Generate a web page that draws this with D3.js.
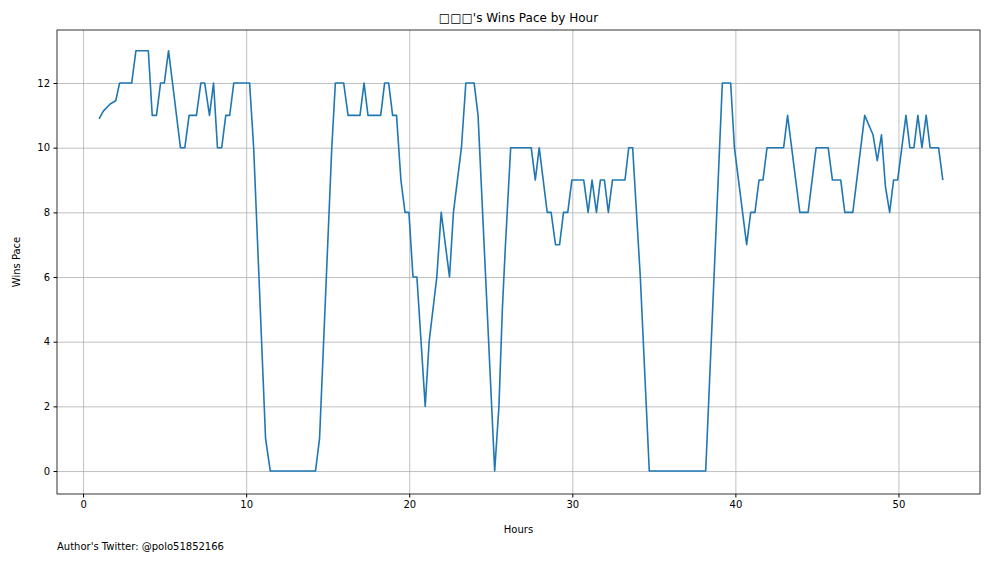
<!DOCTYPE html>
<html>
<head>
<meta charset="utf-8">
<script src="https://cdn.jsdelivr.net/npm/d3@7"></script>
<style>
  body { margin: 0; background: #fff; }
  text { font-family: "DejaVu Sans", sans-serif; }
  .grid line { stroke: #b0b0b0; stroke-width: 0.8; }
  .grid path { display: none; }
  .axis text { font-size: 10px; fill: #000; }
</style>
</head>
<body>
<svg width="997" height="562"></svg>
<script>
// vertices (hour, wins pace)
const hours = [0.98, 1.24, 1.66, 2.0, 2.24, 2.98, 3.24, 4.0, 4.24, 4.5, 4.75, 4.98, 5.24, 5.97, 6.24, 6.5, 6.95,
  7.22, 7.46, 7.75, 8.0, 8.24, 8.5, 8.75, 8.99, 9.24, 10.21, 10.46, 11.19, 11.48, 14.25, 14.5, 15.25, 15.47,
  15.98, 16.25, 16.98, 17.23, 17.47, 18.25, 18.49, 18.74, 18.98, 19.22, 19.49, 19.74, 19.98, 20.23, 20.47,
  20.98, 21.22, 21.69, 21.96, 22.47, 22.71, 23.2, 23.47, 23.98, 24.22, 25.24, 25.5, 25.71, 25.9, 26.22,
  27.48, 27.73, 27.97, 28.46, 28.7, 28.97, 29.22, 29.46, 29.72, 29.97, 30.7, 30.97, 31.21, 31.48, 31.72,
  31.97, 32.21, 32.46, 33.23, 33.46, 33.7, 34.17, 34.72, 38.18, 39.2, 39.71, 39.94, 40.69, 40.94, 41.2,
  41.45, 41.69, 41.94, 42.96, 43.2, 43.95, 44.46, 44.95, 45.69, 45.95, 46.46, 46.71, 47.2, 47.93, 48.44,
  48.7, 48.96, 49.2, 49.46, 49.7, 49.95, 50.46, 50.7, 50.95, 51.19, 51.44, 51.7, 51.94, 52.46, 52.72];
const winsPace = [10.89, 11.13, 11.35, 11.45, 12, 12, 13, 13, 11, 11, 12, 12, 13, 10, 10, 11, 11,
  12, 12, 11, 12, 10, 10, 11, 11, 12, 12, 10, 1, 0, 0, 1, 10, 12,
  12, 11, 11, 12, 11, 11, 12, 12, 11, 11, 9, 8, 8, 6, 6,
  2, 4, 6, 8, 6, 8, 10, 12, 12, 11, 0, 2, 5, 7, 10,
  10, 9, 10, 8, 8, 7, 7, 8, 8, 9, 9, 8, 9, 8, 9,
  9, 8, 9, 9, 10, 10, 6, 0, 0, 12, 12, 10, 7, 8, 8,
  9, 9, 10, 10, 11, 8, 8, 10, 10, 9, 9, 8, 8, 11, 10.4,
  9.6, 10.4, 8.8, 8, 9, 9, 11, 10, 10, 11, 10, 11, 10, 10, 9];
const xTicks = [0, 10, 20, 30, 40, 50];
const yTicks = [0, 2, 4, 6, 8, 10, 12];

const svg = d3.select('svg');
const mLeft = 57, mRight = 980, mTop = 30, mBottom = 494;

const x = d3.scaleLinear().domain([-1.6, 55.0]).range([mLeft, mRight]);
const y = d3.scaleLinear().domain([-0.71, 13.64]).range([mBottom, mTop]);

// grid
svg.append('g')
    .attr('class', 'grid')
    .attr('transform', `translate(0, ${mBottom})`)
    .call(d3.axisBottom(x).tickValues(xTicks).tickSize(-(mBottom - mTop)).tickFormat(''));
svg.append('g')
    .attr('class', 'grid')
    .attr('transform', `translate(${mLeft}, 0)`)
    .call(d3.axisLeft(y).tickValues(yTicks).tickSize(-(mRight - mLeft)).tickFormat(''));

// axes
svg.append('g')
    .attr('class', 'axis')
    .attr('transform', `translate(0, ${mBottom})`)
    .call(d3.axisBottom(x).tickValues(xTicks).tickSize(3.5).tickPadding(3.5).tickSizeOuter(0))
    .call(g => g.select('.domain').remove());
svg.append('g')
    .attr('class', 'axis')
    .attr('transform', `translate(${mLeft}, 0)`)
    .call(d3.axisLeft(y).tickValues(yTicks).tickSize(3.5).tickPadding(3.5).tickSizeOuter(0))
    .call(g => g.select('.domain').remove());

svg.append('rect')
    .attr('x', mLeft).attr('y', mTop)
    .attr('width', mRight - mLeft).attr('height', mBottom - mTop)
    .attr('fill', 'none').attr('stroke', '#000').attr('stroke-width', 0.8);

const pts = hours.map((h, i) => [h, winsPace[i]]);
svg.append('path')
    .datum(pts)
    .attr('fill', 'none')
    .attr('stroke', '#1f77b4')
    .attr('stroke-width', 1.6)
    .attr('stroke-linejoin', 'round')
    .attr('d', d3.line().x(d => x(d[0])).y(d => y(d[1])));

svg.append('text')
    .attr('x', (mLeft + mRight) / 2).attr('y', 22)
    .attr('text-anchor', 'middle').attr('font-size', 12)
    .text("\u25A1\u25A1\u25A1's Wins Pace by Hour");

svg.append('text')
    .attr('x', (mLeft + mRight) / 2).attr('y', 533)
    .attr('text-anchor', 'middle').attr('font-size', 10)
    .text('Hours');

svg.append('text')
    .attr('transform', `translate(20, ${(mTop + mBottom) / 2}) rotate(-90)`)
    .attr('text-anchor', 'middle').attr('font-size', 10)
    .text('Wins Pace');

svg.append('text')
    .attr('x', 57).attr('y', 550)
    .attr('font-size', 10)
    .text("Author's Twitter: @polo51852166");
</script>
</body>
</html>
